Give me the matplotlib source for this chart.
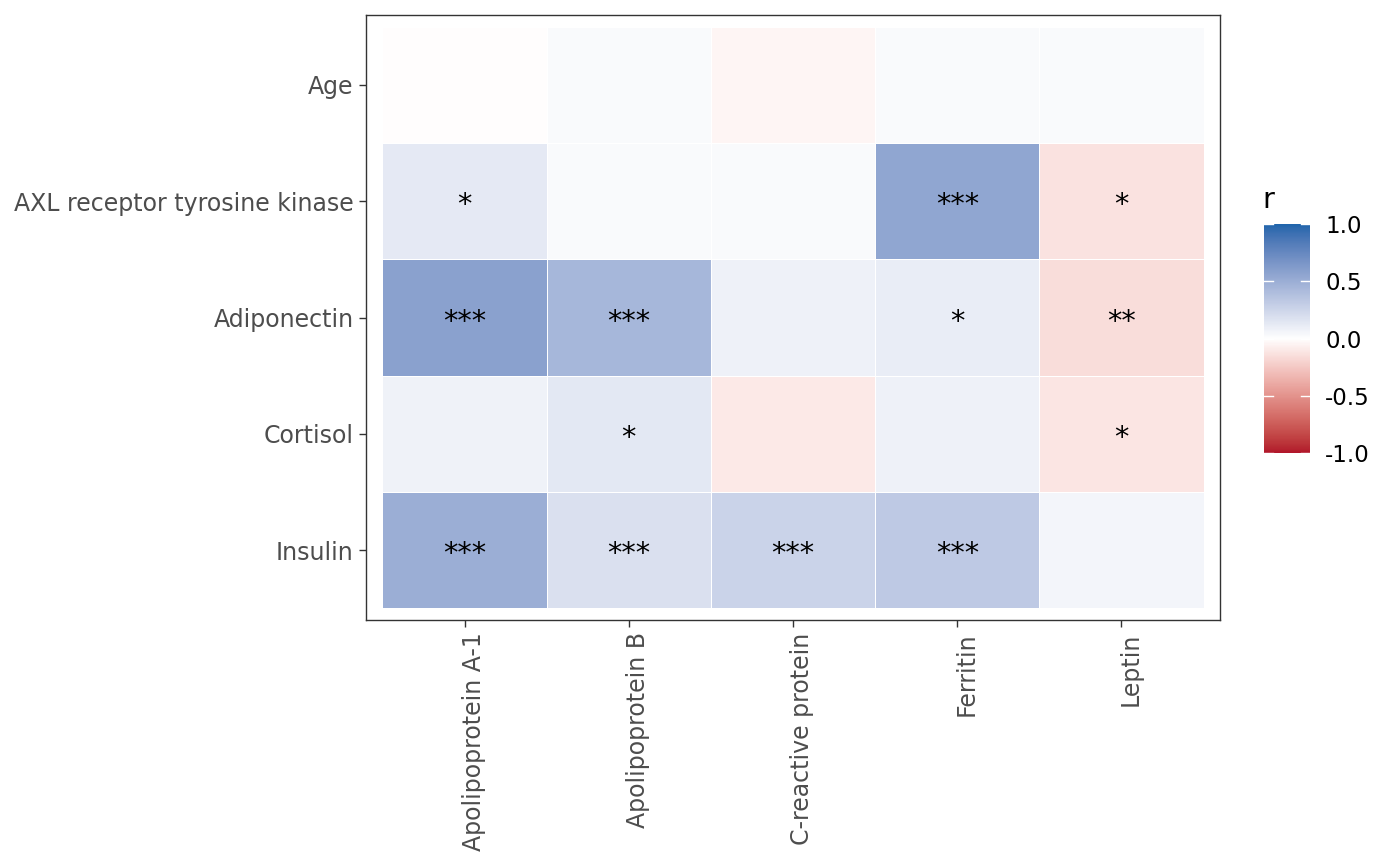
import numpy as np
import matplotlib
matplotlib.use('Agg')
import matplotlib.pyplot as plt
from matplotlib.colors import to_rgb, ListedColormap, Normalize
from matplotlib.transforms import ScaledTranslation

# data
proteins = ['Apolipoprotein A-1', 'Apolipoprotein B', 'C-reactive protein', 'Ferritin', 'Leptin']
traits = ['Age', 'AXL receptor tyrosine kinase', 'Adiponectin', 'Cortisol', 'Insulin']

r_age = [-0.01, 0.03, -0.05, 0.03, 0.03]
r_axl = [0.13, 0.03, 0.035, 0.56, -0.13]
r_adipo = [0.59, 0.45, 0.09, 0.11, -0.16]
r_cortisol = [0.08, 0.14, -0.10, 0.09, -0.12]
r_insulin = [0.50, 0.19, 0.27, 0.33, 0.06]

sig_age = ['', '', '', '', '']
sig_axl = ['*', '', '', '***', '*']
sig_adipo = ['***', '***', '', '*', '**']
sig_cortisol = ['', '*', '', '', '*']
sig_insulin = ['***', '***', '***', '***', '']

r = np.array([r_age, r_axl, r_adipo, r_cortisol, r_insulin])
sig = [sig_age, sig_axl, sig_adipo, sig_cortisol, sig_insulin]

# gradient2 style colour scale, interpolated in Lab space
M = np.array([[0.4124, 0.3576, 0.1805],
              [0.2126, 0.7152, 0.0722],
              [0.0193, 0.1192, 0.9505]])
WP = np.array([0.95047, 1.0, 1.08883])

def to_lab(c):
    rgb = np.array(to_rgb(c))
    lin = np.where(rgb <= 0.04045, rgb / 12.92, ((rgb + 0.055) / 1.055) ** 2.4)
    xyz = M @ lin / WP
    f = np.where(xyz > 0.008856, np.cbrt(xyz), 7.787 * xyz + 16 / 116)
    return np.array([116 * f[1] - 16, 500 * (f[0] - f[1]), 200 * (f[1] - f[2])])

def from_lab(lab):
    fy = (lab[:, 0] + 16) / 116
    f = np.stack([fy + lab[:, 1] / 500, fy, fy - lab[:, 2] / 200], -1)
    xyz = np.where(f ** 3 > 0.008856, f ** 3, (f - 16 / 116) / 7.787) * WP
    lin = np.clip(xyz @ np.linalg.inv(M).T, 0, 1)
    rgb = np.where(lin <= 0.0031308, 12.92 * lin, 1.055 * lin ** (1 / 2.4) - 0.055)
    return np.clip(rgb, 0, 1)

t = np.linspace(0, 1, 128)[:, None]
low, mid, high = to_lab('#B2182B'), to_lab('#FFFFFF'), to_lab('#2166AC')
lab = np.vstack([low + (mid - low) * t, (mid + (high - mid) * t)[1:]])
cmap = ListedColormap(from_lab(lab))
norm = Normalize(-1, 1)

fig = plt.figure(figsize=(14, 8.66), dpi=100)
ax = fig.add_axes([366 / 1400, 1 - 620 / 866, 854 / 1400, 605 / 866])

n_r, n_c = r.shape
xe = np.arange(n_c + 1) - 0.5
ye = np.arange(n_r + 1) - 0.5
ax.pcolormesh(xe, ye, r, cmap=cmap, norm=norm, edgecolors='white', linewidth=0.6)

for i in range(n_r):
    for j in range(n_c):
        if sig[i][j]:
            ax.text(j, i + 0.035, sig[i][j], ha='center', va='center',
                    fontsize=20.7, color='black')

ax.set_xlim(-0.6, n_c - 0.4)
ax.set_ylim(n_r - 0.4, -0.6)
ax.set_xticks(range(n_c))
ax.set_xticklabels(proteins, rotation=90, va='top', ha='center')
ax.set_yticks(range(n_r))
ax.set_yticklabels(traits)
ax.tick_params(length=5, width=1, color='#333333', labelcolor='#4D4D4D',
               labelsize=17, pad=4)
# rotated labels sit just right of their tick, as in the original
shift = ScaledTranslation(9 / 100, 0, fig.dpi_scale_trans)
for lbl in ax.get_xticklabels():
    lbl.set_transform(lbl.get_transform() + shift)
for s in ax.spines.values():
    s.set_color('#333333')
    s.set_linewidth(1)

# colour bar
cax = fig.add_axes([1264 / 1400, 1 - 453 / 866, 46 / 1400, 229 / 866])
grad = np.linspace(-1, 1, 300)[:, None]
cax.imshow(grad, cmap=cmap, norm=norm, aspect='auto', origin='lower',
           extent=[0, 1, -1, 1])
cb_ticks = [-1.0, -0.5, 0.0, 0.5, 1.0]
for v in cb_ticks:
    cax.plot([0, 0.2], [v, v], color='white', lw=1)
    cax.plot([0.8, 1], [v, v], color='white', lw=1)
cax.set_xlim(0, 1)
cax.set_ylim(-1, 1)
cax.set_xticks([])
cax.yaxis.tick_right()
cax.set_yticks(cb_ticks)
cax.set_yticklabels(['-1.0', '-0.5', '0.0', '0.5', '1.0'])
cax.tick_params(axis='y', length=0, pad=11, labelsize=16.5, labelcolor='black')
for s in cax.spines.values():
    s.set_visible(False)
fig.text(1262 / 1400, 1 - 208 / 866, 'r', fontsize=20.7, ha='left', va='baseline')

fig.savefig('out.png', dpi=100, facecolor='white')
